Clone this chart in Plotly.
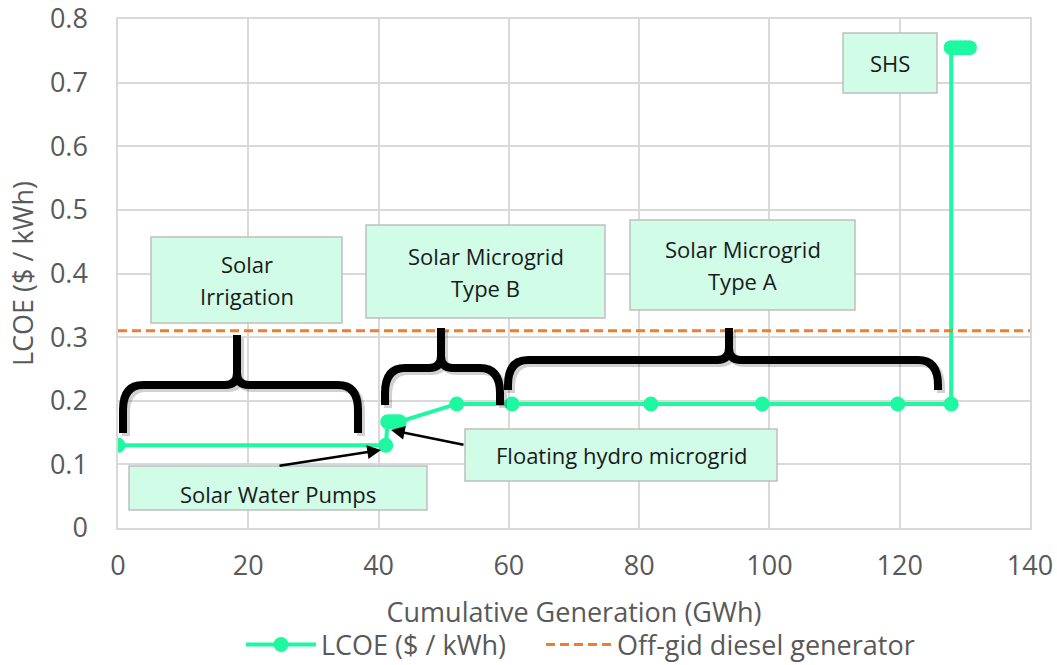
import plotly.graph_objects as go

# ---------------- data ----------------
gen_gwh = [0, 41.1, 41.4, 42.0, 42.6, 43.2, 52.0, 60.5, 81.8, 98.9, 119.7, 127.9, 127.9, 128.6, 129.3, 130.0, 130.7]
lcoe = [0.13, 0.13, 0.167, 0.167, 0.167, 0.167, 0.195, 0.195, 0.195, 0.195, 0.195, 0.195, 0.755, 0.755, 0.755, 0.755, 0.755]
diesel_x = [0, 140]
diesel_y = [0.31, 0.31]

x_ticks = [0, 20, 40, 60, 80, 100, 120, 140]
y_ticks = [0, 0.1, 0.2, 0.3, 0.4, 0.5, 0.6, 0.7, 0.8]
y_tick_text = ["0", "0.1", "0.2", "0.3", "0.4", "0.5", "0.6", "0.7", "0.8"]

series_names = ["LCOE ($ / kWh)", "Off-gid diesel generator"]
x_title = "Cumulative Generation (GWh)"
y_title = "LCOE ($ / kWh)"

# ---------------- layout helpers (page pixel -> data) ----------------
W, H = 1057, 665
L_PX, R_PX, T_PX, B_PX = 118, 1030, 19, 528   # plot area in page pixels
XMAX, YMAX = 140, 0.8


def dx(px):
    return (px - L_PX) / (R_PX - L_PX) * XMAX


def dy(py):
    return (B_PX - py) / (B_PX - T_PX) * YMAX


def px_paper(px):
    return (px - L_PX) / (R_PX - L_PX)


def py_paper(py):
    return (B_PX - py) / (B_PX - T_PX)


GREEN = "#1EF9A1"
ORANGE = "#ED7D31"
GRAY_TXT = "#595959"
GRID = "#D9D9D9"
BOX_FILL = "#D0FCE8"
BOX_LINE = "#BFBFBF"
FONT = "Open Sans"
FS = 27

fig = go.Figure()
fig.add_trace(go.Scatter(
    x=gen_gwh, y=lcoe, mode="lines+markers", name=series_names[0], legend="legend",
    line=dict(color=GREEN, width=4), marker=dict(color=GREEN, size=15),
))
fig.add_trace(go.Scatter(
    x=diesel_x, y=diesel_y, mode="lines", name=series_names[1], legend="legend2",
    line=dict(color=ORANGE, width=3, dash="9px,5px"),
))

shapes = []
annotations = []

# ---------------- text boxes ----------------
boxes = [
    # (left, top, right, bottom) page px, lines
    ((151, 237, 342, 323), ["Solar", "Irrigation"]),
    ((366, 225, 605, 318), ["Solar Microgrid", "Type B"]),
    ((630, 220, 855, 310), ["Solar Microgrid", "Type A"]),
    ((843, 33, 937, 93), ["SHS"]),
    ((465, 429, 777, 481), ["Floating hydro microgrid"]),
    ((129, 466, 427, 510), ["Solar Water Pumps"]),
]
for (l, t, r, b), lines in boxes:
    shapes.append(dict(type="rect", xref="x", yref="y", x0=dx(l), x1=dx(r), y0=dy(b), y1=dy(t),
                       fillcolor=BOX_FILL, line=dict(color=BOX_LINE, width=1.5), layer="above"))
    n = len(lines)
    cx = (l + r) / 2
    if lines[0] == "Solar Water Pumps":
        centers = [494]
    elif n == 1:
        centers = [(t + b) / 2]
    else:
        mid = (t + b) / 2
        centers = [mid - 16, mid + 16]
    for txt, cy in zip(lines, centers):
        annotations.append(dict(x=dx(cx), y=dy(cy), xref="x", yref="y", text=txt, showarrow=False,
                                font=dict(family=FONT, size=22, color="#1A1A1A"),
                                xanchor="center", yanchor="middle"))

# ---------------- braces ----------------
def brace_path(x0, x1, xc, yt, ye, yp, r=20, rv=25, rc=12):
    rv = min(rv, ye - yt)
    p = f"M {dx(x0)},{dy(ye)} L {dx(x0)},{dy(yt + rv)} Q {dx(x0)},{dy(yt)} {dx(x0 + r)},{dy(yt)} "
    p += f"L {dx(xc - rc)},{dy(yt)} Q {dx(xc)},{dy(yt)} {dx(xc)},{dy(yt - rc)} L {dx(xc)},{dy(yp)} "
    p += f"L {dx(xc)},{dy(yt - rc)} Q {dx(xc)},{dy(yt)} {dx(xc + rc)},{dy(yt)} "
    p += f"L {dx(x1 - r)},{dy(yt)} Q {dx(x1)},{dy(yt)} {dx(x1)},{dy(yt + rv)} L {dx(x1)},{dy(ye)}"
    return p


braces = [
    (123, 358, 237, 385, 433, 335),
    (385, 500, 441, 368, 405, 328),
    (508, 938, 729, 360, 390, 328),
]
for x0, x1, xc, yt, ye, yp in braces:
    shapes.append(dict(type="path", xref="x", yref="y",
                       path=brace_path(x0 + 3, x1 + 3, xc + 3, yt + 3, ye + 3, yp + 3),
                       line=dict(color="rgba(0,0,0,0.18)", width=8), layer="above"))
    shapes.append(dict(type="path", xref="x", yref="y",
                       path=brace_path(x0, x1, xc, yt, ye, yp),
                       line=dict(color="black", width=8), layer="above"))

# ---------------- arrows ----------------
arrows = [((278, 466), (381, 450)), ((465, 445), (391, 430))]
for (tx, ty), (hx, hy) in arrows:
    annotations.append(dict(x=dx(hx), y=dy(hy), ax=dx(tx), ay=dy(ty), xref="x", yref="y",
                            axref="x", ayref="y", text="", showarrow=True, arrowhead=2,
                            arrowsize=1.1, arrowwidth=2.5, arrowcolor="black"))

legend_common = dict(orientation="h", xanchor="left", yanchor="middle", y=py_paper(645),
                     font=dict(family=FONT, size=FS, color=GRAY_TXT), bgcolor="rgba(0,0,0,0)")

fig.update_layout(
    width=W, height=H,
    margin=dict(l=L_PX, r=W - R_PX, t=T_PX, b=H - B_PX, autoexpand=False),
    paper_bgcolor="white", plot_bgcolor="white",
    font=dict(family=FONT, size=FS, color=GRAY_TXT),
    shapes=shapes, annotations=annotations,
    showlegend=True,
    legend=dict(x=px_paper(241), itemwidth=70, **legend_common),
    legend2=dict(x=px_paper(541), itemwidth=66, **legend_common),
)
fig.update_xaxes(
    range=[0, XMAX], tickvals=x_ticks, showgrid=True, gridcolor=GRID, gridwidth=1.5,
    zeroline=False, showline=True, linecolor=GRID, linewidth=1.5, mirror=True,
    ticks="", ticklabelstandoff=13, automargin=False, ticklabeloverflow="allow",
    tickfont=dict(family=FONT, size=FS, color=GRAY_TXT),
    title=dict(text=x_title, font=dict(family=FONT, size=FS, color=GRAY_TXT), standoff=21),
)
fig.update_yaxes(
    range=[0, YMAX], tickvals=y_ticks, ticktext=y_tick_text,
    showgrid=True, gridcolor=GRID, gridwidth=1.5,
    zeroline=False, showline=True, linecolor=GRID, linewidth=1.5, mirror=True,
    ticks="", ticklabelstandoff=23, automargin=False, ticklabeloverflow="allow",
    tickfont=dict(family=FONT, size=FS, color=GRAY_TXT),
    title=dict(text=y_title, font=dict(family=FONT, size=FS, color=GRAY_TXT), standoff=8),
)

# remove the browser's default 8px body margin so the figure fills the window exactly
fig.write_html("out.html", config={"displayModeBar": False},
               post_script="document.body.style.margin='0px';")
